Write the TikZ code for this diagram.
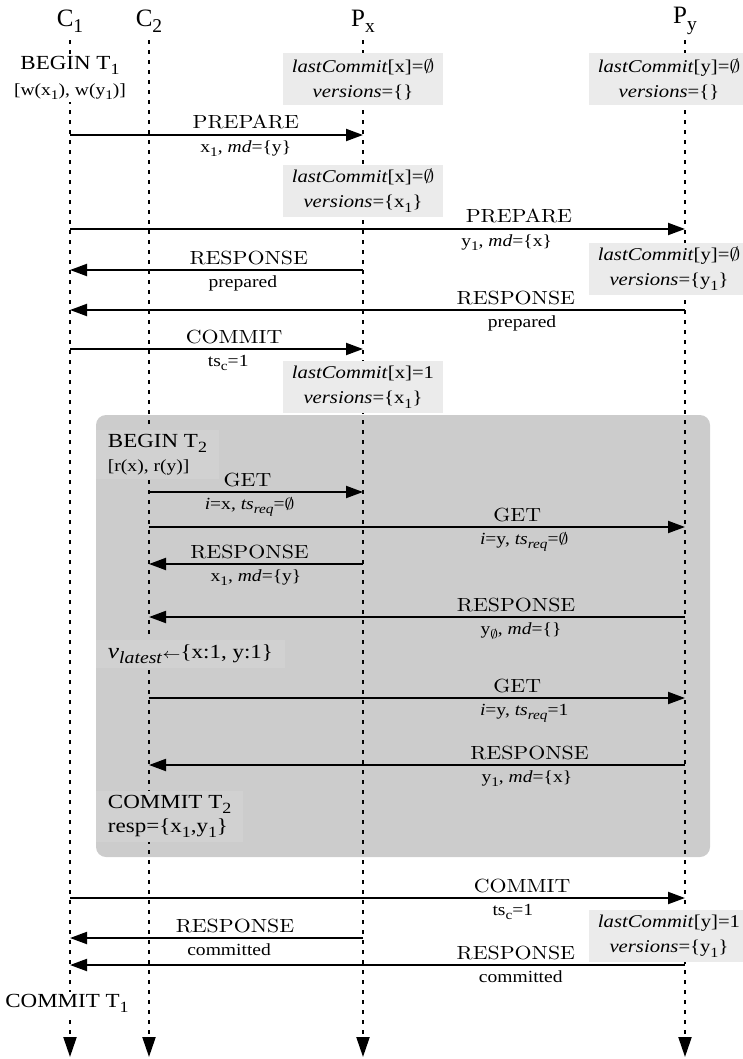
\documentclass[tikz,border=0pt]{standalone}
\usepackage{fontspec}
\newfontfamily\tms{Liberation Serif}
\usetikzlibrary{arrows.meta}
\definecolor{boxgray}{RGB}{204,204,204}
\definecolor{stategray}{RGB}{235,235,235}
\definecolor{notegray}{RGB}{209,209,209}
\newcommand{\brfont}{\fontsize{8.5}{12}\selectfont}
\newcommand{\lo}[1]{\raisebox{-0.55ex}{\scalebox{0.78}{#1}}}

\tikzset{
  hdr/.style={font=\tms\fontsize{12.5}{15}\selectfont,minimum height=19pt,inner sep=1pt},
  lifeline/.style={line width=1.1pt,dash pattern=on 2pt off 3pt,
    -{Triangle[length=10pt,width=6.5pt]}},
  msg/.style={line width=1pt,-{Triangle[length=8.5pt,width=6pt]}},
  msgname/.style={font=\fontsize{9.5}{11}\selectfont,anchor=base,yshift=3pt,
    xscale=1.15,inner sep=0pt},
  msgarg/.style={font=\tms\fontsize{8.5}{10}\selectfont,anchor=base,yshift=-8.75pt,
    xscale=1.15,inner sep=0pt},
  state/.style={fill=stategray,font=\tms\fontsize{9}{12.5}\selectfont,align=center,
    minimum width=69.5pt,minimum height=26pt,inner sep=1pt,xscale=1.15},
  note/.style={fill=white,font=\tms\fontsize{10}{12}\selectfont,align=center,
    inner sep=1pt,xscale=1.15},
  innote/.style={fill=notegray,font=\tms\fontsize{10}{12}\selectfont,align=left,
    inner xsep=5pt,inner ysep=2pt,xscale=1.15},
}

\begin{document}
\begin{tikzpicture}[x=0.5pt,y=-0.5pt]
\useasboundingbox (0,0) rectangle (743,1059);

% read-only transaction T2
\fill[boxgray,rounded corners=5pt] (96,415) rectangle (710,857);

% clients and partitions
\node[hdr] (c1) at (70,21) {C\lo{1}};
\node[hdr] (c2) at (149,21) {C\lo{2}};
\node[hdr] (px) at (363,21) {P\lo{x}};
\node[hdr] (py) at (685,21) {P\lo{y}};
\coordinate (c1-end) at (70,1057);
\coordinate (c2-end) at (149,1057);
\coordinate (px-end) at (363,1057);
\coordinate (py-end) at (685,1057);
\foreach \p in {c1,c2,px,py}
  \draw[lifeline] (\p) -- (\p-end);

% transaction notes
\node[note] (begin1) at (70,78)
  {BEGIN T\lo{1}\\[1pt]{\brfont [w(x\lo{1}), w(y\lo{1})]}};
\node[note] (commit1) at (67,1003) {COMMIT T\lo{1}};
\node[innote,anchor=north west] (begin2) at (96,430)
  {BEGIN T\lo{2}\\{\brfont [r(x), r(y)]}};
\node[innote,anchor=base west] (vlatest) at (96,658)
  {{\fontsize{11}{12}\selectfont\textit{v}\lo{\textit{latest}}}{\fontsize{7}{8}\selectfont$\leftarrow$}\{x:1, y:1\}};
\node[innote,anchor=north west] (commit2) at (96,791)
  {COMMIT T\lo{2}\\resp=\{x\lo{1},y\lo{1}\}};

% partition states
\node[state] (x0) at (363,79)
  {\textit{lastCommit}[x]=$\emptyset$\\\textit{versions}=\{\}};
\node[state] (y0) at (669,79)
  {\textit{lastCommit}[y]=$\emptyset$\\\textit{versions}=\{\}};
\node[state] (x1) at (363,191)
  {\textit{lastCommit}[x]=$\emptyset$\\\textit{versions}=\{x\lo{1}\}};
\node[state] (y1) at (669,269)
  {\textit{lastCommit}[y]=$\emptyset$\\\textit{versions}=\{y\lo{1}\}};
\node[state] (x2) at (363,387)
  {\textit{lastCommit}[x]=1\\\textit{versions}=\{x\lo{1}\}};
\node[state] (y2) at (669,936)
  {\textit{lastCommit}[y]=1\\\textit{versions}=\{y\lo{1}\}};

% T1 prepare and commit
\draw[msg] (c1 |- 0,135) -- (px |- 0,135)
  node[msgname,pos=.6] {PREPARE}
  node[msgarg,pos=.6] {x\lo{1}, \textit{md}=\{y\}};
\draw[msg] (c1 |- 0,229) -- (py |- 0,229)
  node[msgname,pos=.73] {PREPARE}
  node[msgarg,pos=.71] {y\lo{1}, \textit{md}=\{x\}};
\draw[msg] (px |- 0,270) -- (c1 |- 0,270)
  node[msgname,pos=.39] {RESPONSE}
  node[msgarg,pos=.41] {prepared};
\draw[msg] (py |- 0,310) -- (c1 |- 0,310)
  node[msgname,pos=.275] {RESPONSE}
  node[msgarg,pos=.265] {prepared};
\draw[msg] (c1 |- 0,349) -- (px |- 0,349)
  node[msgname,pos=.56] {COMMIT}
  node[msgarg,pos=.54] {ts\lo{c}=1};

% T2 reads
\draw[msg] (c2 |- 0,492) -- (px |- 0,492)
  node[msgname,pos=.46] {GET}
  node[msgarg,pos=.47] {\textit{i}=x, \textit{ts}\lo{\textit{req}}=$\emptyset$};
\draw[msg] (c2 |- 0,527) -- (py |- 0,527)
  node[msgname,pos=.687] {GET}
  node[msgarg,pos=.7] {\textit{i}=y, \textit{ts}\lo{\textit{req}}=$\emptyset$};
\draw[msg] (px |- 0,564) -- (c2 |- 0,564)
  node[msgname,pos=.53] {RESPONSE}
  node[msgarg,pos=.5] {x\lo{1}, \textit{md}=\{y\}};
\draw[msg] (py |- 0,617) -- (c2 |- 0,617)
  node[msgname,pos=.315] {RESPONSE}
  node[msgarg,pos=.306] {y\lo{$\emptyset$}, \textit{md}=\{\}};
\draw[msg] (c2 |- 0,698) -- (py |- 0,698)
  node[msgname,pos=.687] {GET}
  node[msgarg,pos=.7] {\textit{i}=y, \textit{ts}\lo{\textit{req}}=1};
\draw[msg] (py |- 0,765) -- (c2 |- 0,765)
  node[msgname,pos=.29] {RESPONSE}
  node[msgarg,pos=.295] {y\lo{1}, \textit{md}=\{x\}};

% T1 commit on y
\draw[msg] (c1 |- 0,898) -- (py |- 0,898)
  node[msgname,pos=.735] {COMMIT}
  node[msgarg,pos=.72] {ts\lo{c}=1};
\draw[msg] (px |- 0,938) -- (c1 |- 0,938)
  node[msgname,pos=.437] {RESPONSE}
  node[msgarg,pos=.457] {committed};
\draw[msg] (py |- 0,965) -- (c1 |- 0,965)
  node[msgname,pos=.275] {RESPONSE}
  node[msgarg,pos=.267] {committed};
\end{tikzpicture}
\end{document}
